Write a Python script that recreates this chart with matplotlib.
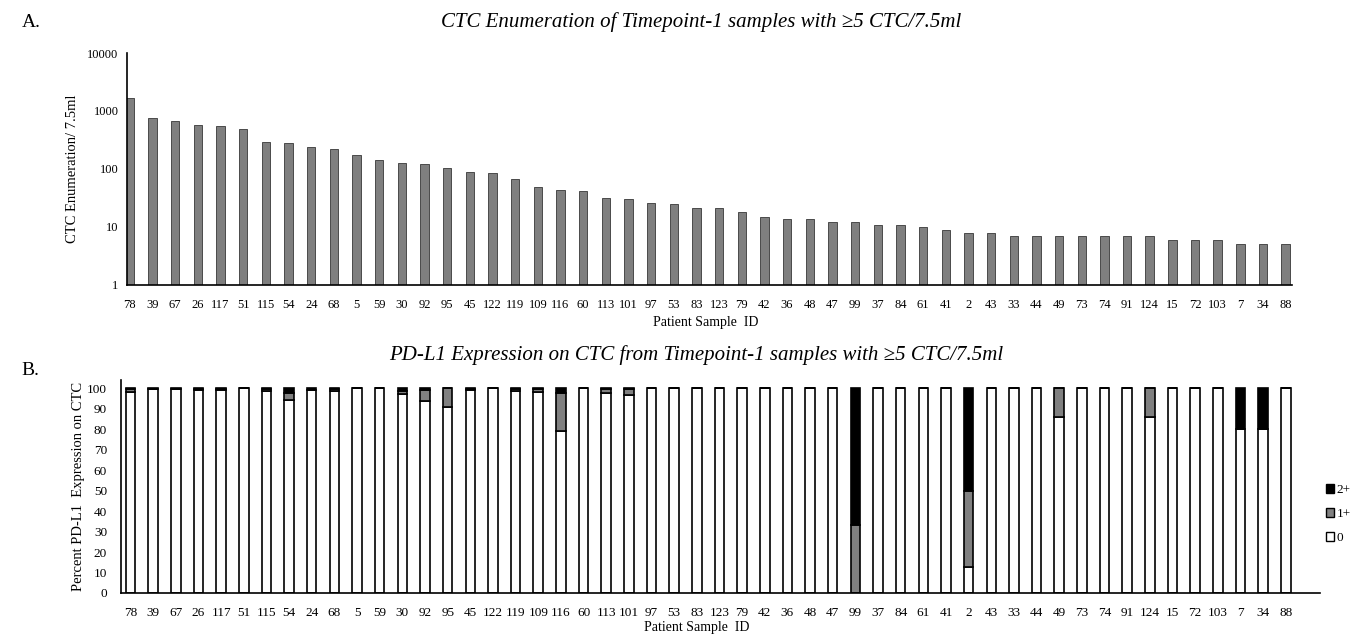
import numpy as np
import matplotlib
matplotlib.use("Agg")
import matplotlib.pyplot as plt
from matplotlib.patches import Patch

plt.rcParams['font.family'] = ['Liberation Serif', 'DejaVu Serif']

# Patient sample IDs, ordered by CTC count
sample_ids = ['78', '39', '67', '26', '117', '51', '115', '54', '24', '68',
              '5', '59', '30', '92', '95', '45', '122', '119', '109', '116',
              '60', '113', '101', '97', '53', '83', '123', '79', '42', '36',
              '48', '47', '99', '37', '84', '61', '41', '2', '43', '33',
              '44', '49', '73', '74', '91', '124', '15', '72', '103', '7',
              '34', '88']

# CTC per 7.5 ml (panel A, log scale)
ctc_counts = [1700, 750, 660, 580, 550, 480, 295, 280, 235, 225,
              175, 145, 125, 120, 105, 88, 84, 67, 49, 43,
              41, 32, 30, 26, 25, 21, 21, 18, 15, 14,
              14, 12, 12, 11, 11, 10, 9, 8, 8, 7,
              7, 7, 7, 7, 7, 7, 6, 6, 6, 5,
              5, 5]

# Percent PD-L1 expression (panel B)
pct_2plus = [0.5, 0.5, 0.5, 0.5, 0.5, 0, 0.5, 2.5, 0.7, 0.5,
             0, 0, 1.5, 1, 0, 0.5, 0, 0.5, 0.5, 2.3,
             0, 0.5, 0.5, 0, 0, 0, 0, 0, 0, 0,
             0, 0, 66.7, 0, 0, 0, 0, 50, 0, 0,
             0, 0, 0, 0, 0, 0, 0, 0, 0, 20,
             20, 0]
pct_1plus = [1.5, 0, 0, 0.5, 0.5, 0, 1, 3.5, 0, 1,
             0, 0, 1.5, 5.2, 9.4, 0.5, 0, 1, 1.5, 18.6,
             0, 2, 3, 0, 0, 0, 0, 0, 0, 0,
             0, 0, 33.3, 0, 0, 0, 0, 37.5, 0, 0,
             0, 14.3, 0, 0, 0, 14.3, 0, 0, 0, 0,
             0, 0]
pct_0 = [100 - a - b for a, b in zip(pct_2plus, pct_1plus)]

x = np.arange(len(sample_ids))

fig = plt.figure(figsize=(13.58, 6.34), dpi=100)

# ---- Panel A ----
ax1 = fig.add_axes([0.0935, 0.5505, 0.8579, 0.3659])
ax1.bar(x, ctc_counts, width=0.37, color='#7f7f7f', edgecolor='#4a4a4a', linewidth=0.7)
ax1.set_yscale('log')
ax1.set_ylim(1, 10000)
ax1.set_xlim(-0.13, 51.28)
ax1.set_yticks([1, 10, 100, 1000, 10000])
ax1.set_yticklabels(['1', '10', '100', '1000', '10000'])
ax1.minorticks_off()
ax1.set_xticks(x)
ax1.set_xticklabels(sample_ids)
ax1.tick_params(length=0, labelsize=9)
ax1.tick_params(axis='y', pad=6)
ax1.tick_params(axis='x', pad=10)
for s in ['top', 'right']:
    ax1.spines[s].set_visible(False)
for s in ['left', 'bottom']:
    ax1.spines[s].set_linewidth(1.2)
ax1.set_xlabel('Patient Sample  ID', fontsize=10)
ax1.xaxis.set_label_coords(0.497, -0.135)
ax1.set_ylabel('CTC Enumeration/ 7.5ml', fontsize=10.5)
ax1.yaxis.set_label_coords(-0.041, 0.5)

fig.text(0.016, 0.965, 'A.', fontsize=14, va='center')
fig.text(0.516, 0.965, 'CTC Enumeration of Timepoint-1 samples with \u22655 CTC/7.5ml',
         fontsize=15, style='italic', ha='center', va='center')

# ---- Panel B ----
ax2 = fig.add_axes([0.0891, 0.0647, 0.8829, 0.336])
w = 0.42
ax2.bar(x, pct_0, width=w, color='white', edgecolor='black', linewidth=1.2, label='0')
ax2.bar(x, pct_1plus, width=w, bottom=pct_0, color='#808080', edgecolor='black',
        linewidth=1.2, label='1+')
b2 = [a + b for a, b in zip(pct_0, pct_1plus)]
ax2.bar(x, pct_2plus, width=w, bottom=b2, color='black', edgecolor='black',
        linewidth=1.2, label='2+')
ax2.set_ylim(0, 104)
ax2.set_xlim(-0.42, 52.51)
ax2.set_yticks(range(0, 101, 10))
ax2.set_xticks(x)
ax2.set_xticklabels(sample_ids)
ax2.tick_params(length=0, labelsize=9.5)
ax2.tick_params(axis='y', pad=10)
ax2.tick_params(axis='x', pad=10)
for s in ['top', 'right']:
    ax2.spines[s].set_visible(False)
for s in ['left', 'bottom']:
    ax2.spines[s].set_linewidth(1.2)
ax2.set_xlabel('Patient Sample  ID', fontsize=10)
ax2.xaxis.set_label_coords(0.48, -0.13)
ax2.set_ylabel('Percent PD-L1  Expression on CTC', fontsize=10.5)
ax2.yaxis.set_label_coords(-0.03, 0.5)

handles = [Patch(facecolor='black', edgecolor='black', label='2+'),
           Patch(facecolor='#808080', edgecolor='black', label='1+'),
           Patch(facecolor='white', edgecolor='black', label='0')]
ax2.legend(handles=handles, loc='center left', bbox_to_anchor=(0.995, 0.37),
           frameon=False, fontsize=9.5, handlelength=0.6, handleheight=0.6,
           handletextpad=0.2, labelspacing=0.9)

fig.text(0.016, 0.416, 'B.', fontsize=14, va='center')
fig.text(0.513, 0.44, 'PD-L1 Expression on CTC from Timepoint-1 samples with \u22655 CTC/7.5ml',
         fontsize=15, style='italic', ha='center', va='center')

fig.savefig('out.png', dpi=100)
